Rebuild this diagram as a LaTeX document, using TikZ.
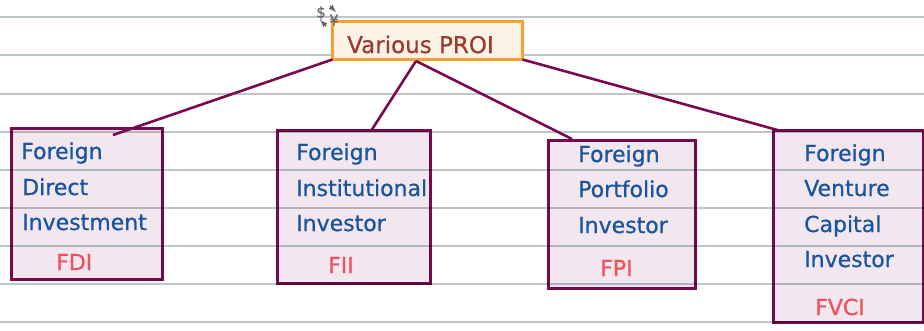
\documentclass[tikz,border=0pt]{standalone}
\usepackage{fontspec}
\setmainfont{DejaVu Sans}[BoldFont=DejaVu Sans,BoldFeatures={FakeBold=0.6}]
\definecolor{rulegray}{HTML}{BCC6C8}
\definecolor{linkpurple}{HTML}{7A0A50}
\definecolor{boxpink}{HTML}{F2E7EE}
\definecolor{inkblue}{HTML}{1A549E}
\definecolor{inkred}{HTML}{F0505A}
\definecolor{proibrown}{HTML}{9C3A30}
\definecolor{proiedge}{HTML}{F5A030}
\definecolor{proifill}{HTML}{FDF2E6}
\tikzset{
  boxstyle/.style={draw=linkpurple,line width=2.6pt,fill=boxpink,blend mode=multiply,inner sep=0pt,outer sep=0pt,anchor=north west},
  linkstyle/.style={draw=linkpurple,line width=2.6pt},
  termstyle/.style={anchor=base west,text=inkblue,font=\fontsize{22}{24}\selectfont\bfseries,inner sep=0pt},
  abbrstyle/.style={anchor=base west,text=inkred,font=\fontsize{22}{24}\selectfont\bfseries,inner sep=0pt},
  iconstyle/.style={text=black!60,font=\fontsize{15}{16}\selectfont\bfseries,inner sep=0pt},
}
\begin{document}
\begin{tikzpicture}[x=1pt,y=-1pt]
\useasboundingbox (0,0) rectangle (924,330);
\fill[white] (0,0) rectangle (924,330);

% ruled lines
\foreach \ypos in {17,55,94,132,170,208,246,284,322}
  \draw[rulegray,line width=2pt] (0,\ypos) -- (924,\ypos);

% boxes
\node[boxstyle,minimum width=151pt,minimum height=151pt] (fdi) at (11.5,128.5) {};
\node[boxstyle,minimum width=153pt,minimum height=153pt] (fii) at (277.5,130.5) {};
\node[boxstyle,minimum width=147pt,minimum height=148pt] (fpi) at (548.5,140.5) {};
\node[boxstyle,minimum width=150pt,minimum height=192pt] (fvci) at (773.5,130.5) {};
\node[draw=proiedge,fill=proifill,line width=2.6pt,inner sep=0pt,outer sep=0pt,anchor=north west,
  minimum width=190pt,minimum height=38pt] (proi) at (332.5,21.5) {};

% links
\coordinate (fdiend) at (113,135);
\coordinate (fiiend) at (371,131);
\coordinate (fpiend) at (572,139);
\coordinate (fvciend) at (781,131);
\coordinate (proimid) at (416,61);
\draw[linkstyle] (proi.south west) -- (fdiend);
\draw[linkstyle] (proimid) -- (fiiend);
\draw[linkstyle] (proimid) -- (fpiend);
\draw[linkstyle] (proi.south east) -- (fvciend);

% texts
\node[anchor=base west,text=proibrown,font=\fontsize{23}{24}\selectfont\bfseries,inner sep=0pt] (proitext) at (347,53) {Various PROI};

\node[termstyle] (fdia) at (21,159) {Foreign};
\node[termstyle] (fdib) at (22,195) {Direct};
\node[termstyle] (fdic) at (22,230) {Investment};
\node[abbrstyle] (fdid) at (56,270) {FDI};

\node[termstyle] (fiia) at (296,160) {Foreign};
\node[termstyle] (fiib) at (296,196) {Institutional};
\node[termstyle] (fiic) at (296,231) {Investor};
\node[abbrstyle] (fiid) at (328,273) {FII};

\node[termstyle] (fpia) at (578,162) {Foreign};
\node[termstyle] (fpib) at (578,197) {Portfolio};
\node[termstyle] (fpic) at (578,233) {Investor};
\node[abbrstyle] (fpid) at (600,276) {FPI};

\node[termstyle] (fvcia) at (804,161) {Foreign};
\node[termstyle] (fvcib) at (804,196) {Venture};
\node[termstyle] (fvcic) at (804,232) {Capital};
\node[termstyle] (fvcid) at (804,267) {Investor};
\node[abbrstyle] (fvcie) at (815,315) {FVCI};

% currency icon
\node[iconstyle] (dollar) at (321,13) {\$};
\node[iconstyle] (yen) at (334,20) {¥};
\coordinate (arrowa) at (330,6);
\coordinate (arrowb) at (336,12);
\coordinate (arrowc) at (326,26);
\coordinate (arrowd) at (320,20);
\draw[black!60,line width=1.5pt,-latex] (arrowa) -- (arrowb);
\draw[black!60,line width=1.5pt,-latex] (arrowc) -- (arrowd);
\end{tikzpicture}
\end{document}
